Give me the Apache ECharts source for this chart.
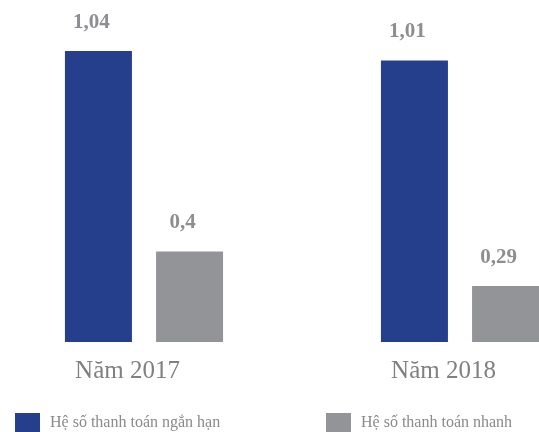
<!DOCTYPE html>
<html>
<head>
<meta charset="utf-8">
<script src="https://cdn.jsdelivr.net/npm/echarts@6/dist/echarts.min.js"></script>
<style>html,body{margin:0;padding:0;background:#fff;}#c{width:539px;height:432px;}</style>
</head>
<body>
<div id="c"></div>
<script>
var categories = ['Năm 2017', 'Năm 2018'];
var seriesNames = ['Hệ số thanh toán ngắn hạn', 'Hệ số thanh toán nhanh'];
var shortTerm = [1.04, 1.01];
var quick = [0.4, 0.29];

var fmt = function (p) { return String(p.value).replace('.', ','); };
var serif = '"Liberation Serif", "DejaVu Serif", serif';
var chart = echarts.init(document.getElementById('c'));
var labelCfg = {
  show: true, position: 'top', distance: 18, offset: [-7, 0],
  formatter: fmt, color: '#8e8e92', fontFamily: serif, fontWeight: 'bold', fontSize: 21
};
var legendText = { color: '#8a8a8a', fontFamily: serif, fontSize: 16, padding: [0, 0, 8, 5] };
chart.setOption({
  animation: false,
  grid: { left: -14, right: -79, top: 30, bottom: 90, outerBoundsMode: 'none', containLabel: false },
  xAxis: {
    type: 'category', data: categories,
    axisLine: { show: false }, axisTick: { show: false },
    axisLabel: { color: '#808080', fontFamily: serif, fontSize: 25, margin: 17, padding: [0, 33, 0, 0] }
  },
  yAxis: { type: 'value', min: 0.111, max: 1.107, show: false, splitLine: { show: false } },
  legend: [
    { data: [seriesNames[0]], left: 15, top: 413, itemWidth: 25, itemHeight: 19, itemGap: 0, padding: 0,
      icon: 'rect', textStyle: legendText },
    { data: [seriesNames[1]], left: 326, top: 413, itemWidth: 25, itemHeight: 19, itemGap: 0, padding: 0,
      icon: 'rect', textStyle: legendText }
  ],
  series: [
    { name: seriesNames[0], type: 'bar', data: shortTerm, barWidth: 67, barGap: '36%',
      itemStyle: { color: '#263f8c' }, label: labelCfg },
    { name: seriesNames[1], type: 'bar', data: quick, barWidth: 67,
      itemStyle: { color: '#939498' }, label: labelCfg }
  ]
});
</script>
</body>
</html>
